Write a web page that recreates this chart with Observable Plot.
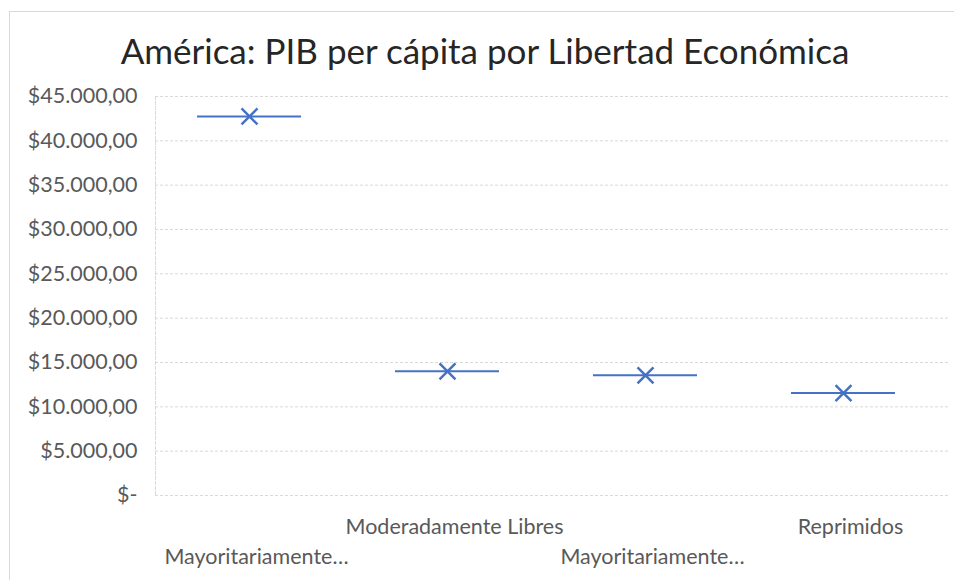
<!DOCTYPE html>
<html>
<head>
<meta charset="utf-8">
<script src="https://cdn.jsdelivr.net/npm/d3@7"></script>
<script src="https://cdn.jsdelivr.net/npm/@observablehq/plot@0.6"></script>
<style>
  html, body { margin: 0; padding: 0; background: #fff; }
  #page { position: relative; width: 954px; height: 580px; overflow: hidden; font-family: Lato, "Open Sans", sans-serif; }
  #border { position: absolute; left: 9px; top: 11px; width: 1000px; height: 620px; border: 1px solid #d9d9d9; box-sizing: border-box; }
  #title { position: absolute; left: 0; top: 29px; width: 970px; text-align: center; font-size: 35px; color: #262626; line-height: 42px; }
  #chart { position: absolute; left: 0; top: 80px; }
</style>
</head>
<body>
<div id="page">
  <div id="border"></div>
  <div id="title">América: PIB per cápita por Libertad Económica</div>
  <div id="chart"></div>
</div>
<script>
const categories = ["Mayoritariamente Libres", "Moderadamente Libres", "Mayoritariamente No Libres", "Reprimidos"];
const categoryLabels = ["Mayoritariamente…", "Moderadamente Libres", "Mayoritariamente…", "Reprimidos"];
const pibPerCapita = [42750, 14000, 13550, 11550];
const yTicks = [0, 5000, 10000, 15000, 20000, 25000, 30000, 35000, 40000, 45000];

const data = categories.map((c, i) => ({cat: c, value: pibPerCapita[i]}));
const labelOf = c => categoryLabels[categories.indexOf(c)];
const fmt = v => v === 0 ? "$-" : "$" + d3.format(",.2f")(v).replace(/,/g, "#").replace(".", ",").replace(/#/g, ".");

const blue = "#4472C4";
const grid = "#d9d9d9";

const chart = Plot.plot({
  width: 954,
  height: 500,
  marginTop: 16,
  marginBottom: 85,
  marginLeft: 155,
  marginRight: 4,
  style: {fontFamily: "Lato, 'Open Sans', sans-serif", color: "#595959", background: "transparent"},
  x: {type: "band", domain: categories, padding: 0, axis: null, label: null},
  y: {domain: [0, 45000], axis: null, label: null},
  marks: [
    Plot.gridY(yTicks, {stroke: grid, strokeOpacity: 1, strokeDasharray: "3,2"}),
    Plot.frame({anchor: "left", stroke: grid, strokeDasharray: "3,2"}),
    Plot.axisY(yTicks, {tickSize: 0, tickPadding: 18, tickFormat: fmt, fontSize: 21.5, fill: "#595959", label: null}),
    Plot.axisX([categories[1], categories[3]], {tickSize: 0, tickPadding: 23, tickFormat: labelOf, fontSize: 21.5, fill: "#595959", label: null}),
    Plot.axisX([categories[0], categories[2]], {tickSize: 0, tickPadding: 53, tickFormat: labelOf, fontSize: 21.5, fill: "#595959", label: null}),
    Plot.tickY(data, {x: "cat", y: "value", stroke: blue, strokeWidth: 2, insetLeft: 40, insetRight: 54}),
    Plot.dot(data, {x: "cat", y: "value", symbol: "times", r: 7.3, stroke: blue, strokeWidth: 2.5, dx: -7})
  ]
});
document.getElementById("chart").appendChild(chart);
</script>
</body>
</html>
